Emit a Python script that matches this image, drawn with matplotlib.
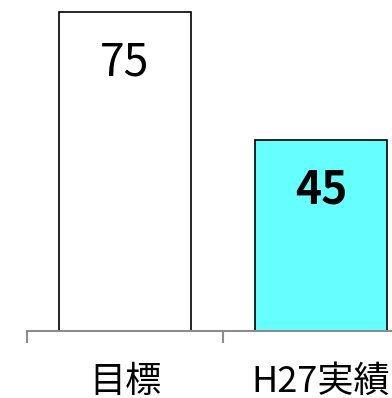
import matplotlib
matplotlib.use('Agg')
import matplotlib.pyplot as plt

plt.rcParams['font.family'] = ['Noto Sans CJK JP', 'DejaVu Sans']

categories = ['目標', 'H27実績']
values = [75, 45]
colors = ['#ffffff', '#66ffff']
bold = ['normal', 'bold']

fig = plt.figure(figsize=(3.92, 3.98), dpi=100)
ax = fig.add_axes([27/392, 67/398, 365/392, 331/398])

x = range(len(categories))
ax.bar(x, values, width=0.67, color=colors, edgecolor='black', linewidth=1.2)

for i, v in enumerate(values):
    ax.annotate(str(v), xy=(i, v), xytext=(0, -36.5), textcoords='offset points',
                ha='center', va='center', fontsize=32, fontweight=bold[i])

ax.set_xlim(-0.5, -0.5 + 365/196)
ax.set_ylim(0, 331/4.253)

for s in ['top', 'right', 'left']:
    ax.spines[s].set_visible(False)
ax.spines['bottom'].set_color('#8c8c8c')
ax.spines['bottom'].set_linewidth(1.5)
ax.set_yticks([])

# category labels sit low and run off the bottom edge, as in the source
ax.set_xticks(list(x))
ax.set_xticklabels(categories, fontsize=26)
ax.tick_params(axis='x', which='major', length=0, pad=23.5)
ax.set_xticks([-0.5, 0.5], minor=True)
ax.tick_params(axis='x', which='minor', length=8.6, width=1.5, color='#8c8c8c')

fig.savefig('out.png', dpi=100)
